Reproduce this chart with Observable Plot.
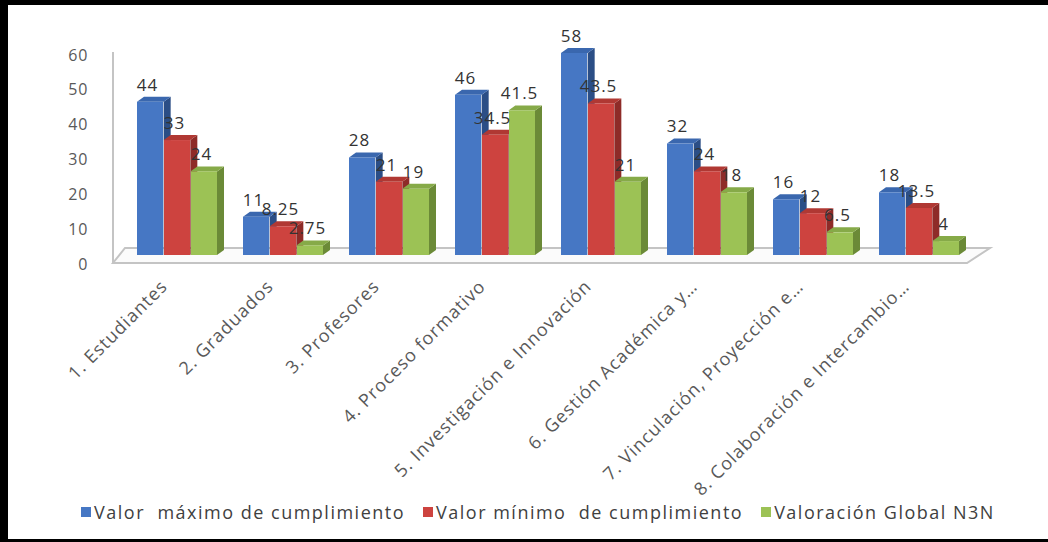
<!DOCTYPE html>
<html>
<head>
<meta charset="utf-8">
<script src="https://cdn.jsdelivr.net/npm/d3@7"></script>
<script src="https://cdn.jsdelivr.net/npm/@observablehq/plot@0.6"></script>
<style>
  body { margin: 0; background: #fff; }
  #wrap { position: relative; width: 1048px; height: 542px; overflow: hidden; background: #fff; font-family: "Open Sans", sans-serif; }
  #chart { position: absolute; left: 0; top: 0; }
  #legend { position: absolute; left: 14px; top: 500px; width: 1048px; display: flex; justify-content: center; align-items: center; gap: 18px; font-size: 18px; letter-spacing: 1.5px; color: #404040; white-space: pre; }
  #legend .item { display: flex; align-items: center; }
  #legend .sw { width: 10px; height: 10px; margin-right: 3px; }
  .bl { position: absolute; background: #000; }
</style>
</head>
<body>
<div id="wrap">
  <div id="chart"></div>
  <div id="legend"></div>
  <div class="bl" style="left:0;top:0;width:8px;height:542px"></div>
  <div class="bl" style="left:0;top:0;width:1048px;height:5px"></div>
  <div class="bl" style="left:0;top:539px;width:1048px;height:3px"></div>
</div>
<script>
// ---- data ----
const categories = [
  "1. Estudiantes",
  "2. Graduados",
  "3. Profesores",
  "4. Proceso formativo",
  "5. Investigación e Innovación",
  "6. Gestión Académica y…",
  "7. Vinculación, Proyección e…",
  "8. Colaboración e Intercambio…"
];
const seriesNames = [
  "Valor  máximo de cumplimiento",
  "Valor mínimo  de cumplimiento",
  "Valoración Global N3N"
];
const maxValues    = [44, 11, 28, 46, 58, 32, 16, 18];
const minValues    = [33, 8.25, 21, 34.5, 43.5, 24, 12, 13.5];
const globalValues = [24, 2.75, 19, 41.5, 21, 18, 6.5, 4];
const yTicks = [0, 10, 20, 30, 40, 50, 60];

// ---- styling ----
const frontColors = ["#4677C4", "#CD433F", "#9CC255"];
const topColors   = ["#3A67AE", "#B03833", "#86AA48"];
const sideColors  = ["#2B4E86", "#8E2B28", "#6B8A37"];
const DX = 7, DY = 5;

const seriesValues = [maxValues, minValues, globalValues];
const rows = categories.flatMap((c, i) =>
  seriesValues.map((vals, s) => ({category: c, series: seriesNames[s], s, value: vals[i]}))
);

// floor + vertical axis line (decoration, positioned from the scales)
const decor = (index, scales, values, dims) => {
  const L = dims.marginLeft, R = dims.width - dims.marginRight;
  const y0 = scales.y(0), yTop = scales.y(60);
  const g = d3.create("svg:g");
  g.append("polygon")
    .attr("points", [[L, y0 + 8], [R - 16, y0 + 8], [R + 7, y0 - 7], [L + 12, y0 - 7]].join(" "))
    .attr("fill", "#fbfbfb").attr("stroke", "#c4c4c4").attr("stroke-width", 2);
  g.append("line")
    .attr("x1", L).attr("x2", L).attr("y1", yTop + 6).attr("y2", y0 + 8)
    .attr("stroke", "#c4c4c4").attr("stroke-width", 2);
  return g.node();
};

// 3D top and side faces for one series
const faces = (s) => (index, scales, values, dims) => {
  const g = d3.create("svg:g");
  const bw = scales.x.bandwidth ? scales.x.bandwidth() : 81;
  const w = bw / 3;
  rows.filter(d => d.s === s).forEach(d => {
    const x1 = scales.x(d.category) + w * s, x2 = x1 + w;
    const yt = scales.y(d.value), yb = scales.y(0);
    g.append("polygon")
      .attr("points", [[x2, yt], [x2 + DX, yt - DY], [x2 + DX, yb - DY], [x2, yb]].join(" "))
      .attr("fill", sideColors[s]);
    g.append("polygon")
      .attr("points", [[x1, yt], [x1 + DX, yt - DY], [x2 + DX, yt - DY], [x2, yt]].join(" "))
      .attr("fill", topColors[s]);
  });
  return g.node();
};

const chart = Plot.plot({
  width: 1048,
  height: 495,
  marginLeft: 113,
  marginRight: 65,
  marginTop: 46,
  marginBottom: 240,
  style: 'font-family: "Open Sans", sans-serif; letter-spacing: 1px; color: #595959; background: transparent; overflow: visible;',
  x: {type: "band", domain: categories, paddingInner: 0.243, paddingOuter: 0.187},
  y: {domain: [0, 60]},
  color: {domain: seriesNames, range: frontColors},
  marks: [
    decor,
    Plot.axisY(yTicks, {tickSize: 0, tickPadding: 25, dy: 9, fontSize: 16, label: null}),
    Plot.axisX({tickRotate: -45, tickSize: 0, tickPadding: 28, dx: -13, fontSize: 18, label: null}),
    ...[0, 1, 2].flatMap(s => [
      faces(s),
      Plot.barY(rows.filter(d => d.s === s), {
        x: "category", y: "value", fill: "series",
        insetLeft: 27 * s, insetRight: 27 * (2 - s)
      })
    ]),
    ...[0, 1, 2].map(s => Plot.text(rows.filter(d => d.s === s), {
      x: "category", y: "value", text: d => String(d.value),
      dx: 27 * (s - 1) - 3, dy: -17, fontSize: 17, fill: "#333"
    }))
  ]
});
document.getElementById("chart").appendChild(chart);

// legend
const legend = document.getElementById("legend");
seriesNames.forEach((name, i) => {
  const item = document.createElement("div");
  item.className = "item";
  const sw = document.createElement("span");
  sw.className = "sw";
  sw.style.background = frontColors[i];
  const tx = document.createElement("span");
  tx.textContent = name;
  item.appendChild(sw);
  item.appendChild(tx);
  legend.appendChild(item);
});
</script>
</body>
</html>
